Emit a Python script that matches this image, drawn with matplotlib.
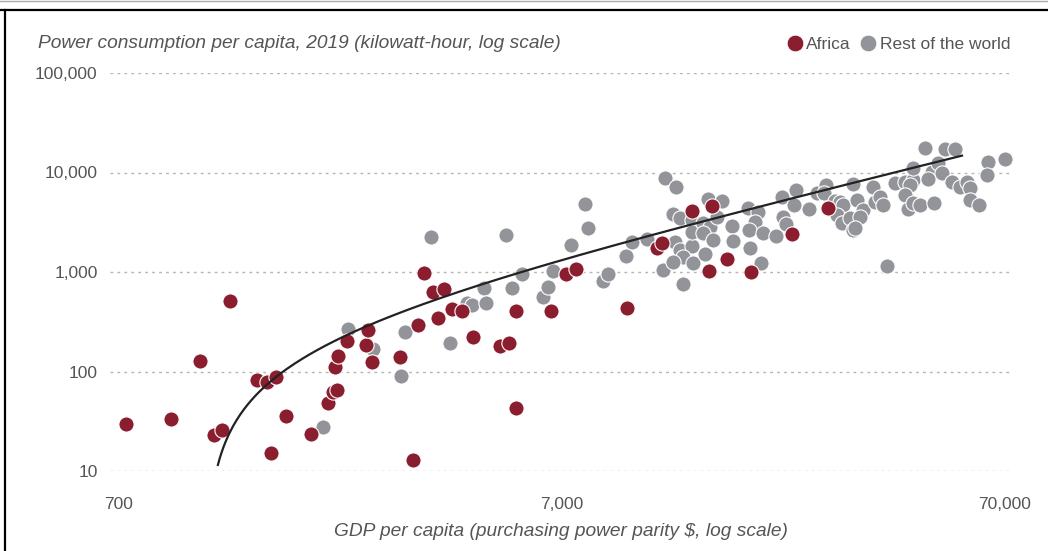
import numpy as np
import matplotlib
matplotlib.use("Agg")
import matplotlib.pyplot as plt
from matplotlib.lines import Line2D

# ---- data ----
africa_gdp = [730, 922, 1072, 1252, 1152, 1201, 1440, 1517, 1590, 1549, 1675, 1907,
              2083, 2138, 2183, 2160, 2193, 2298, 2537, 2563, 2617, 3027, 3238, 3322,
              3428, 3592, 3803, 3686, 3964, 4175, 4421, 5087, 5330, 5527, 5527, 6628,
              7165, 7547, 9835, 11490, 11800, 13790, 15290, 15060, 16530, 18730, 23160, 27920]
africa_kwh = [30, 33, 128, 511, 23, 26, 82, 78, 88, 15, 36, 23.5,
              48, 62, 65, 111, 143, 203, 185, 261, 124, 140, 12.9, 293,
              977, 630, 675, 345, 425, 405, 222, 180, 193, 43, 405, 405,
              955, 1072, 435, 1742, 1955, 4102, 4603, 1023, 1351, 1000, 2410, 4397]

row_gdp = [2029, 2310, 2631, 3042, 3106, 3554, 3923, 4285, 4398, 4682, 4731, 5248,
           5414, 5704, 6361, 6528, 6699, 7353, 7911, 8036, 8684, 8911, 9783, 10094,
           10910, 11858, 11980, 12690, 12490, 12950, 13160, 12620, 12950, 13790, 13160, 12490,
           13860, 13790, 13790, 14590, 15130, 15690, 14590, 15370, 14750, 14980, 16110, 16960,
           17050, 18630, 19720, 18430, 19420, 19120, 18530, 19930, 21320, 22000, 22110, 22460,
           23650, 23400, 25310, 26380, 27640, 27400, 28950, 29720, 30180, 29260, 30030, 31300,
           31800, 31800, 32470, 33490, 32980, 35280, 35650, 36590, 37150, 39550, 41650, 43420,
           42750, 41650, 42310, 43420, 45030, 48420, 43420, 47920, 49430, 46940, 50480, 46200,
           51260, 54000, 53160, 55410, 57460, 58360, 58360, 61160, 64090, 70000, 63750, 37930,
           32130]
row_kwh = [27.7, 267, 168, 90, 249, 2249, 193, 488, 466, 690, 488, 2355,
           690, 955, 561, 706, 1023, 1867, 4823, 2767, 812, 955, 1449, 2003,
           2147, 1047, 8810, 7150, 3828, 3490, 757, 2003, 1663, 1824, 1416, 1262,
           1232, 3332, 2523, 3105, 2831, 3572, 2466, 2099, 1517, 5420, 5176, 2897,
           2051, 1742, 1232, 4397, 4009, 3181, 2643, 2466, 2301, 5675, 3572, 3035,
           6668, 4713, 4297, 6223, 7482, 6223, 5176, 5058, 4713, 3741, 3105, 3490,
           2643, 7656, 5297, 4199, 3572, 7150, 5058, 5675, 4713, 7834, 8035, 8414,
           7482, 5943, 4297, 4936, 4713, 4936, 11100, 10120, 12460, 8605, 9886, 17630,
           17220, 17220, 8035, 7150, 8035, 6982, 5297, 4713, 12760, 13670, 9441, 1148,
           2767]

x_ticks = [700, 7000, 70000]
x_tick_labels = ["700", "7,000", "70,000"]
y_ticks = [10, 100, 1000, 10000, 100000]
y_tick_labels = ["10", "100", "1,000", "10,000", "100,000"]

# trend curve fit parameters: y = K * (x - X0) ** P
TREND_X0 = 1100.0
TREND_K = 10 ** -0.973
TREND_P = 1.085
TREND_RANGE = (1175, 56000)

# ---- style ----
RED = "#8b1e2e"
GREY = "#939499"
TXT = "#555555"

W, H = 1048, 551
fig = plt.figure(figsize=(W / 100, H / 100), dpi=100)
fig.patch.set_facecolor("white")
plt.rcParams["font.family"] = ["Liberation Sans", "DejaVu Sans"]

ax = fig.add_axes([110 / W, 1 - 471 / H, 902 / W, 398 / H])
ax.set_xscale("log")
ax.set_yscale("log")
ax.set_xlim(671, 72600)
ax.set_ylim(10, 100000)

for s in ax.spines.values():
    s.set_visible(False)

for yt in y_ticks:
    ax.axhline(yt, color="#b5b5b5", lw=1.0, ls=(0, (2, 3)), zorder=0)

ax.scatter(row_gdp, row_kwh, s=120, color=GREY, edgecolor="white", linewidth=0.8,
           zorder=2, clip_on=False)
ax.scatter(africa_gdp, africa_kwh, s=120, color=RED, edgecolor="white", linewidth=0.8,
           zorder=3, clip_on=False)

xt = np.geomspace(TREND_RANGE[0], TREND_RANGE[1], 400)
yt_curve = TREND_K * (xt - TREND_X0) ** TREND_P
ax.plot(xt, yt_curve, color="#222222", lw=1.6, zorder=4)

ax.set_xticks(x_ticks)
ax.set_xticklabels(x_tick_labels)
ax.set_yticks(y_ticks)
ax.set_yticklabels(y_tick_labels)
ax.minorticks_off()
ax.tick_params(axis="both", length=0, colors=TXT, labelsize=12.5)
ax.tick_params(axis="y", pad=9)
ax.tick_params(axis="x", pad=19)

fig.text(38 / W, 1 - 44 / H, "Power consumption per capita, 2019 (kilowatt-hour, log scale)",
         fontsize=13.8, style="italic", color=TXT, ha="left", va="center")
fig.text(0.5 * (110 + 1012) / W, 1 - 532 / H,
         "GDP per capita (purchasing power parity $, log scale)",
         fontsize=13.8, style="italic", color=TXT, ha="center", va="center")

handles = [Line2D([], [], marker="o", ls="none", markersize=12, markerfacecolor=RED,
                  markeredgecolor="white", markeredgewidth=0.6, label="Africa"),
           Line2D([], [], marker="o", ls="none", markersize=12, markerfacecolor=GREY,
                  markeredgecolor="white", markeredgewidth=0.6, label="Rest of the world")]
leg = fig.legend(handles=handles, loc="center right", bbox_to_anchor=(1010 / W, 1 - 44 / H),
                 ncol=2, frameon=False, fontsize=12.5, handletextpad=0.15, columnspacing=0.5,
                 borderaxespad=0, borderpad=0, handlelength=1.0)
for t in leg.get_texts():
    t.set_color(TXT)

# frame lines of the original image
fig.add_artist(Line2D([0, 1], [1 - 9.5 / H, 1 - 9.5 / H], color="black", lw=1.6,
                      transform=fig.transFigure))
fig.add_artist(Line2D([0, 1], [1 - 0.5 / H, 1 - 0.5 / H], color="#aaaaaa", lw=1.0,
                      transform=fig.transFigure))
fig.add_artist(Line2D([4.5 / W, 4.5 / W], [0, 1 - 9.5 / H], color="black", lw=1.6,
                      transform=fig.transFigure))

fig.savefig("out.png", dpi=100)
